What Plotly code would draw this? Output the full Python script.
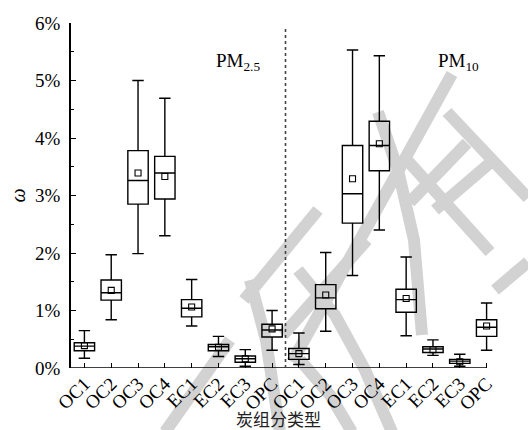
import plotly.graph_objects as go

# ---------------- data ----------------
groups = ["OC1", "OC2", "OC3", "OC4", "EC1", "EC2", "EC3", "OPC"]
tick_labels = groups + groups

pm25_lower = [0.17, 0.84, 1.99, 2.30, 0.73, 0.20, 0.03, 0.31]
pm25_q1 = [0.30, 1.18, 2.85, 2.94, 0.89, 0.30, 0.10, 0.54]
pm25_median = [0.38, 1.31, 3.26, 3.39, 1.04, 0.37, 0.16, 0.66]
pm25_q3 = [0.44, 1.53, 3.78, 3.68, 1.19, 0.41, 0.21, 0.76]
pm25_upper = [0.65, 1.97, 5.00, 4.69, 1.54, 0.55, 0.32, 1.00]
pm25_mean = [0.39, 1.35, 3.39, 3.33, 1.06, 0.36, 0.16, 0.68]

pm10_lower = [0.06, 0.64, 1.61, 2.40, 0.56, 0.22, 0.03, 0.31]
pm10_q1 = [0.15, 1.03, 2.52, 3.43, 0.97, 0.27, 0.08, 0.55]
pm10_median = [0.25, 1.22, 3.03, 3.87, 1.19, 0.33, 0.12, 0.71]
pm10_q3 = [0.34, 1.45, 3.87, 4.29, 1.37, 0.37, 0.15, 0.84]
pm10_upper = [0.61, 2.01, 5.53, 5.43, 1.93, 0.49, 0.24, 1.13]
pm10_mean = [0.25, 1.27, 3.29, 3.90, 1.21, 0.32, 0.11, 0.73]

positions = list(range(len(tick_labels)))

# ---------------- layout geometry ----------------
W, H = 528, 430
ML, MR, MT, MB = 71, 28, 23, 62
PW, PH = W - ML - MR, H - MT - MB

FONT = "Liberation Serif, Times New Roman, serif"

def px2paper(px, py):
    return (px - ML) / PW, (H - MB - py) / PH

fig = go.Figure()

# watermark (decoration)
watermark = [
    [(165, 432), (230, 340)],
    [(318, 210), (244, 300)],
    [(250, 280), (266, 340), (280, 432)],
    [(283, 335), (367, 240)],
    [(300, 360), (330, 395), (352, 432)],
    [(298, 270), (335, 315), (365, 370), (392, 432)],
    [(292, 362), (452, 74)],
    [(378, 112), (398, 170), (414, 240), (422, 335)],
    [(447, 112), (528, 198)],
    [(407, 160), (490, 252)],
    [(410, 202), (467, 143)],
    [(435, 210), (497, 157)],
    [(495, 290), (528, 262)],
]
for stroke in watermark:
    pts = [px2paper(x, y) for x, y in stroke]
    path = "M " + " L ".join(f"{x:.4f},{y:.4f}" for x, y in pts)
    fig.add_shape(type="path", path=path, xref="paper", yref="paper",
                  line=dict(color="rgb(210,210,210)", width=12), layer="below")

fig.add_trace(go.Box(
    x=positions,
    lowerfence=pm25_lower + pm10_lower,
    q1=pm25_q1 + pm10_q1,
    median=pm25_median + pm10_median,
    q3=pm25_q3 + pm10_q3,
    upperfence=pm25_upper + pm10_upper,
    width=0.76,
    whiskerwidth=0.56,
    boxpoints=False,
    line=dict(color="black", width=1.4),
    fillcolor="rgba(255,255,255,0)",
    showlegend=False,
    hoverinfo="skip",
))

fig.add_trace(go.Scatter(
    x=positions,
    y=pm25_mean + pm10_mean,
    mode="markers",
    marker=dict(symbol="square-open", size=6, color="black", line=dict(width=1.1)),
    showlegend=False,
    hoverinfo="skip",
))

# x axis line (ends at last category)
fig.add_shape(type="line", xref="x", yref="y", x0=-0.5, x1=15, y0=0, y1=0,
              line=dict(color="black", width=1.5))
# dotted separator
fig.add_shape(type="line", xref="x", yref="y", x0=7.5, x1=7.5, y0=0, y1=5.93,
              line=dict(color="#444444", width=1.6, dash="dot"))

fig.add_annotation(x=5.74, y=5.32, xref="x", yref="y", text="PM<sub>2.5</sub>",
                   showarrow=False, font=dict(family=FONT, size=19, color="black"))
fig.add_annotation(x=13.96, y=5.32, xref="x", yref="y", text="PM<sub>10</sub>",
                   showarrow=False, font=dict(family=FONT, size=19, color="black"))

fig.add_annotation(x=7.25, xref="x", y=(H - MB - 418) / PH, yref="paper",
                   xanchor="center", yanchor="middle",
                   text="炭组分类型", showarrow=False,
                   font=dict(family="Noto Sans CJK SC", size=17, color="#222"))
fig.add_annotation(x=(17 - ML) / PW, xref="paper", y=0.5, yref="paper",
                   xanchor="center", yanchor="middle",
                   text="<i>ω</i>", textangle=-90, showarrow=False,
                   font=dict(family=FONT, size=20, color="black"))

fig.update_layout(
    width=W, height=H,
    margin=dict(l=ML, r=MR, t=MT, b=MB, pad=0),
    paper_bgcolor="white", plot_bgcolor="rgba(0,0,0,0)",
    font=dict(family=FONT, size=19, color="black"),
    xaxis=dict(
        range=[-0.5, 15.5],
        tickmode="array", tickvals=positions, ticktext=tick_labels,
        tickangle=-45, ticks="inside", ticklen=5, tickwidth=1.3, tickcolor="black",
        showline=False, showgrid=False, zeroline=False,
        tickfont=dict(family=FONT, size=19, color="black"),
    ),
    yaxis=dict(
        range=[0, 6], dtick=1, tick0=0, ticksuffix="%",
        ticks="inside", ticklen=5, tickwidth=1.3, tickcolor="black",
        showline=True, linecolor="black", linewidth=1.5, mirror=False,
        showgrid=False, zeroline=False,
        minor=dict(ticks="inside", ticklen=3, dtick=0.5, tickcolor="black", tickwidth=1.2),
        tickfont=dict(family=FONT, size=19, color="black"),
        ticklabelstandoff=5,
    ),
)

fig.write_html("out.html")
